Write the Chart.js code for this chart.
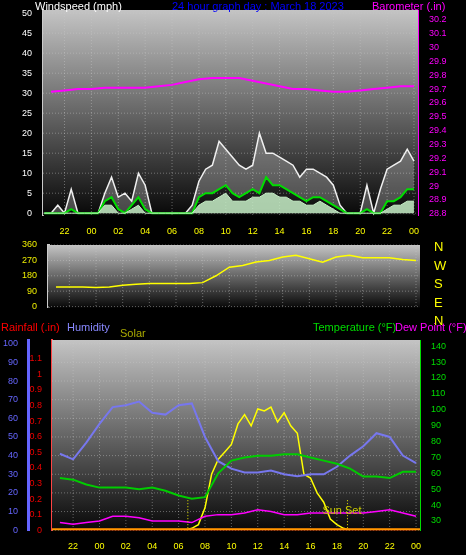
<!DOCTYPE html>
<html><head><meta charset="utf-8">
<script src="https://cdn.jsdelivr.net/npm/chart.js@4"></script>
<style>
body{margin:0;background:#000;width:466px;height:555px;overflow:hidden;position:relative;font-family:"Liberation Sans",Arial,sans-serif}
canvas{position:absolute;left:0}
.t{position:absolute;font-size:11px;white-space:nowrap;line-height:12px}
</style></head><body>
<canvas id="c1" style="top:0"></canvas>
<canvas id="c2" style="top:236px"></canvas>
<canvas id="c3" style="top:330px"></canvas>
<div class="t" style="left:35px;top:0;color:#fff">Windspeed (mph)</div>
<div class="t" style="left:172px;top:0;color:#00f">24 hour graph day : March 18 2023</div>
<div class="t" style="left:372px;top:0;color:#f0f">Barometer (.in)</div>
<div class="t" style="left:1px;top:321px;color:#f00">Rainfall (.in)</div>
<div class="t" style="left:67px;top:321px;color:#88f">Humidity</div>
<div class="t" style="left:120px;top:327px;color:#aa0">Solar</div>
<div class="t" style="left:313px;top:321px;color:#0d0">Temperature (°F)</div>
<div class="t" style="left:395px;top:321px;color:#f0f">Dew Point (°F)</div>
<div class="t" style="left:434px;top:238px;color:#ff0;font-size:13px;line-height:18.5px">N<br>W<br>S<br>E<br>N</div>
<script>
// ---- data ----
const windHours = [20.5,21,21.5,22,22.5,23,23.5,24,24.5,25,25.5,26,26.5,27,27.5,28,28.5,29,29.5,30,30.5,31,31.5,32,32.5,33,33.5,34,34.5,35,35.5,36,36.5,37,37.5,38,38.5,39,39.5,40,40.5,41,41.5,42,42.5,43,43.5,44,44.5,45,45.5,46,46.5,47,47.5,48];
const windGust =  [0,0,2,0,6,0,0,0,0,5,9,4,5,3,10,7,0,0,0,0,0,0,2,8,11,12,18,16,14,12,11,12,20,15,15,14,13,12,9,11,11,10,9,7,2,0,0,0,7,0,6,11,12,13,16,13];
const windSpeed = [0,0,0,0,1,0,0,0,0,3,4,1,0,2,4,1,0,0,0,0,0,0,0,4,5,5,6,7,5,4,5,6,5,9,7,7,6,5,4,3,4,4,3,2,1,0,0,0,1,0,0,3,3,4,6,6];
const windLow =   [0,0,0,0,0,0,0,0,0,2,2,0,0,1,2,0,0,0,0,0,0,0,0,2,3,3,4,5,3,3,3,4,4,5,5,4,4,3,3,2,2,3,2,1,0,0,0,0,0,0,0,1,2,2,3,3];
const hours = [21,22,23,24,25,26,27,28,29,30,31,32,33,34,35,36,37,38,39,40,41,42,43,44,45,46,47,48];
const baro =  [29.68,29.69,29.70,29.70,29.71,29.71,29.71,29.71,29.72,29.73,29.75,29.77,29.78,29.78,29.78,29.76,29.74,29.72,29.70,29.70,29.69,29.68,29.68,29.69,29.70,29.71,29.72,29.72];
const windDir = [115,115,115,112,115,125,130,135,135,135,135,140,180,230,240,260,270,290,300,280,260,290,300,285,285,285,275,270];
const humidity = [41,38,47,57,66,67,69,63,62,67,68,50,37,33,31,31,32,30,29,30,30,34,40,45,52,50,40,36];
const temperature = [57,56,53,51,51,51,50,51,49,46,44,45,60,68,70,71,71,72,72,70,68,66,63,58,58,57,61,61];
const dewPoint = [29,28,29,30,33,33,32,30,30,30,29,33,34,34,35,37,36,34,34,35,35,35,35,35,36,37,35,33];
const rainfall = [0,0,0,0,0,0,0,0,0,0,0,0,0,0,0,0,0,0,0,0,0,0,0,0,0,0,0,0];
const solarHours = [30.5,31,31.5,32,32.5,33,33.5,34,34.5,35,35.5,36,36.5,37,37.5,38,38.5,39,39.5,40,40.5,41,41.5,42,42.5,43];
const solar = [0,10,30,120,300,380,420,460,570,620,560,650,640,660,580,630,560,520,300,280,200,150,60,30,10,0];
const hourTicks = [22,24,26,28,30,32,34,36,38,40,42,44,46,48];

const pts=(xs,ys)=>xs.map((x,i)=>({x,y:ys[i]}));
const XMIN=20.4, XMAX=48.3;
const gradBg={id:'bg',beforeDatasetsDraw(c){const a=c.chartArea,ctx=c.ctx;const g=ctx.createLinearGradient(0,a.top,0,a.bottom);g.addColorStop(0,'#c4c4c4');g.addColorStop(1,'#080808');ctx.save();ctx.fillStyle=g;ctx.fillRect(a.left,a.top,a.width,a.height);
 const gx=c.scales.x;ctx.strokeStyle='rgba(200,200,200,0.45)';ctx.setLineDash([1,2]);ctx.lineWidth=1;
 hourTicks.forEach(h=>{const px=gx.getPixelForValue(h);ctx.beginPath();ctx.moveTo(px,a.top);ctx.lineTo(px,a.bottom);ctx.stroke();});
 const gy=c.scales.y;gy.ticks.forEach(t=>{const py=gy.getPixelForValue(t.value);ctx.beginPath();ctx.moveTo(a.left,py);ctx.lineTo(a.right,py);ctx.stroke();});
 ctx.restore();}};
const xScale=(show)=>({type:'linear',min:XMIN,max:XMAX,afterBuildTicks:s=>{s.ticks=hourTicks.map(v=>({value:v}))},
 ticks:{display:show,color:'#ff0',font:{size:9},autoSkip:false,maxRotation:0,callback:v=>String(v%24).padStart(2,'0')},grid:{display:false},border:{display:false}});
const fixW=w=>s=>{s.width=w};
Chart.defaults.animation=false;Chart.defaults.responsive=false;
Chart.defaults.plugins.legend.display=false;Chart.defaults.plugins.tooltip.enabled=false;
Chart.defaults.elements.point.radius=0;Chart.defaults.elements.line.borderWidth=1.5;Chart.defaults.elements.line.tension=0;

function mk(id,w,h){const c=document.getElementById(id);c.width=w;c.height=h;c.style.width=w+'px';c.style.height=h+'px';return c;}

new Chart(mk('c1',466,240),{type:'line',data:{datasets:[
 {data:pts(windHours,windLow),borderColor:'#c8f0c8',backgroundColor:'rgba(200,240,200,0.85)',fill:'origin',borderWidth:1,yAxisID:'y'},
 {data:pts(windHours,windSpeed),borderColor:'#00dd00',borderWidth:2,yAxisID:'y'},
 {data:pts(windHours,windGust),borderColor:'#f0f0f0',backgroundColor:'rgba(255,255,255,0.25)',fill:'-1',borderWidth:1.5,yAxisID:'y'},
 {data:pts(hours,baro),borderColor:'#ff00ff',borderWidth:2,yAxisID:'y1'}]},
 plugins:[gradBg],
 options:{layout:{padding:{top:10,bottom:0}},scales:{x:xScale(true),
 y:{min:-0.5,max:50.8,afterBuildTicks:s=>{s.ticks=[0,5,10,15,20,25,30,35,40,45,50].map(v=>({value:v}))},afterFit:fixW(43),ticks:{color:'#fff',font:{size:9}},grid:{display:false},border:{color:'#ccc',width:2}},
 y1:{position:'right',min:28.79,max:30.27,afterBuildTicks:s=>{s.ticks=[28.8,28.9,29,29.1,29.2,29.3,29.4,29.5,29.6,29.7,29.8,29.9,30,30.1,30.2].map(v=>({value:v}))},afterFit:fixW(48),ticks:{color:'#f0f',font:{size:9},callback:v=>String(+v.toFixed(1))},grid:{display:false},border:{color:'#f0f',width:1}}}}});

new Chart(mk('c2',466,80),{type:'line',data:{datasets:[
 {data:pts(hours,windDir),borderColor:'#ffff00',borderWidth:1.5}]},
 plugins:[gradBg],
 options:{layout:{padding:{top:9,bottom:2}},scales:{x:{...xScale(false),afterFit:s=>{s.height=0}},
 y:{min:-6,max:360,afterBuildTicks:s=>{s.ticks=[0,90,180,270,360].map(v=>({value:v}))},afterFit:fixW(48),ticks:{color:'#ee0',font:{size:9}},grid:{display:false},border:{color:'#ccc',width:3}},
 yr:{position:'right',display:true,min:0,max:360,ticks:{display:false},afterFit:fixW(46),grid:{display:false},border:{display:false}}}}});

const sunLines={id:'sun',afterDatasetsDraw(c){const ctx=c.ctx,x=c.scales.x,a=c.chartArea;ctx.save();ctx.strokeStyle='#ee0';ctx.setLineDash([1,2]);
 [30.7,42.8].forEach(h=>{const px=x.getPixelForValue(h);ctx.beginPath();ctx.moveTo(px,a.bottom-30);ctx.lineTo(px,a.bottom);ctx.stroke();});
 ctx.setLineDash([]);ctx.fillStyle='#cc0';ctx.font='11px "Liberation Sans"';ctx.fillText('Sun Set',x.getPixelForValue(40.9),a.bottom-16);
 ctx.strokeStyle='#ff9900';ctx.lineWidth=2;ctx.beginPath();ctx.moveTo(a.left,a.bottom-1);ctx.lineTo(a.right,a.bottom-1);ctx.stroke();ctx.restore();}};
new Chart(mk('c3',466,225),{type:'line',data:{datasets:[
 {data:pts(hours,rainfall),borderColor:'#ff0000',borderWidth:3,yAxisID:'yr'},
 {data:pts(hours,dewPoint),borderColor:'#ff00ff',borderWidth:1.5,yAxisID:'yt'},
 {data:pts(hours,temperature),borderColor:'#00cc00',borderWidth:2,yAxisID:'yt'},
 {data:pts(hours,humidity),borderColor:'#7777ee',borderWidth:2,yAxisID:'y'},
 {data:pts(solarHours,solar),borderColor:'#ffff00',borderWidth:1.5,yAxisID:'ys'}]},
 plugins:[gradBg,sunLines],
 options:{layout:{padding:{top:10,bottom:0,left:0}},scales:{x:xScale(true),
 yr:{weight:1,min:0,max:1.22,afterBuildTicks:s=>{s.ticks=[0,0.1,0.2,0.3,0.4,0.5,0.6,0.7,0.8,0.9,1,1.1].map(v=>({value:v}))},afterFit:fixW(24),ticks:{color:'#e00',font:{size:9},padding:2,callback:v=>String(+v.toFixed(1))},grid:{display:false},border:{color:'#f44',width:2,dash:[2,2]}},
 y:{weight:2,min:0,max:102,afterBuildTicks:s=>{s.ticks=[0,10,20,30,40,50,60,70,80,90,100].map(v=>({value:v}))},afterFit:fixW(28),ticks:{color:'#66f',font:{size:9},padding:2},grid:{display:false},border:{color:'#66f',width:3}},
 ys:{display:false,min:0,max:1020},
 yt:{position:'right',min:24.2,max:143.9,afterBuildTicks:s=>{s.ticks=[30,40,50,60,70,80,90,100,110,120,130,140].map(v=>({value:v}))},afterFit:fixW(46),ticks:{color:'#0d0',font:{size:9}},grid:{display:false},border:{color:'#0d0',width:1}}}}});
</script></body></html>
